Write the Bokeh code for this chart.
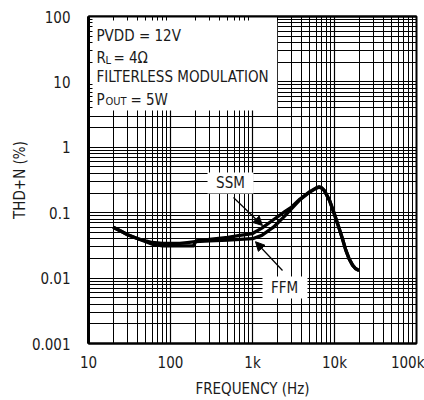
import math
from bokeh.plotting import figure
from bokeh.models import (FixedTicker, BoxAnnotation, Label, Arrow, NormalHead,
                          LogAxis)
from bokeh.embed import file_html
from bokeh.resources import INLINE

FONT = "DejaVu Sans Condensed"

# THD+N versus frequency, PVDD = 12V, RL = 4 ohm, POUT = 5W
freq_ssm = [20, 25, 30, 40, 50, 60, 80, 100, 130, 160, 190, 205, 300, 500, 700,
            1000, 1300, 1800, 2500, 3000, 3800, 5000, 6000, 6500, 7000, 7500,
            8700, 10000, 11400, 12500, 13700, 15000, 16600, 18000, 20000]
thd_ssm = [0.060, 0.052, 0.046, 0.040, 0.036, 0.033, 0.031, 0.031, 0.031, 0.031,
           0.031, 0.037, 0.039, 0.042, 0.045, 0.048, 0.058, 0.078, 0.105, 0.122,
           0.162, 0.210, 0.240, 0.248, 0.240, 0.220, 0.155, 0.095, 0.058, 0.040,
           0.027, 0.020, 0.0158, 0.014, 0.013]

freq_ffm = [20, 25, 30, 40, 50, 60, 80, 100, 130, 160, 200, 300, 500, 700,
            1000, 1300, 1800, 2500, 3000, 3800, 5000, 6000, 6500, 7000, 7500,
            8700, 10000, 11400, 12500, 13700, 15000, 16600, 18000, 20000]
thd_ffm = [0.060, 0.052, 0.046, 0.040, 0.037, 0.035, 0.034, 0.034, 0.034, 0.035,
           0.036, 0.037, 0.038, 0.039, 0.040, 0.045, 0.060, 0.090, 0.115, 0.158,
           0.207, 0.238, 0.246, 0.238, 0.218, 0.153, 0.093, 0.057, 0.040, 0.027,
           0.020, 0.0158, 0.014, 0.013]

x_major = [10, 100, 1000, 10000, 100000]
x_labels = ["10", "100", "1k", "10k", "100k"]
y_major = [0.001, 0.01, 0.1, 1, 10, 100]
y_labels = ["0.001", "0.01", "0.1", "1", "10", "100"]


def minors(majors):
    out = []
    for m in majors[:-1]:
        out += [m * k for k in range(2, 10)]
    return out


p = figure(width=424, height=400, x_axis_type="log", y_axis_type="log",
           x_range=(10, 100000), y_range=(0.001, 100),
           output_backend="svg", toolbar_location=None,
           min_border_left=88, min_border_right=8, min_border_top=16,
           min_border_bottom=57, background_fill_color="white",
           border_fill_color="white")
p.outline_line_color = "black"
p.outline_line_width = 2

p.xaxis.ticker = FixedTicker(ticks=x_major, minor_ticks=minors(x_major))
p.yaxis.ticker = FixedTicker(ticks=y_major, minor_ticks=minors(y_major))
p.xaxis.major_label_overrides = {v: s for v, s in zip(x_major, x_labels)}
p.yaxis.major_label_overrides = {v: s for v, s in zip(y_major, y_labels)}

for ax in (p.xaxis[0], p.yaxis[0]):
    ax.major_label_text_font = FONT
    ax.major_label_text_font_size = "15px"
    ax.major_label_text_color = "#1a1a1a"
    ax.axis_label_text_font = FONT
    ax.axis_label_text_font_size = "15px"
    ax.axis_label_text_font_style = "normal"
    ax.axis_label_text_color = "#1a1a1a"
    ax.axis_line_color = "black"
    ax.major_tick_out = 0
    ax.major_tick_in = 0
    ax.minor_tick_out = 0
    ax.minor_tick_in = 4
    ax.minor_tick_line_color = "black"

p.yaxis.axis_line_width = 3
p.xaxis.axis_line_width = 2
p.yaxis.major_label_standoff = 18
p.xaxis.major_label_standoff = 10
p.xaxis.axis_label = "FREQUENCY (Hz)"
p.yaxis.axis_label = "THD+N (%)"
p.xaxis.axis_label_standoff = 5
p.yaxis.axis_label_standoff = 0

# inward minor ticks along the top edge
top = LogAxis(ticker=FixedTicker(ticks=x_major, minor_ticks=minors(x_major)),
              major_label_overrides={v: "" for v in x_major},
              major_tick_out=0, major_tick_in=0,
              minor_tick_out=0, minor_tick_in=4, axis_line_width=2)
p.add_layout(top, "above")

for g in (p.xgrid[0], p.ygrid[0]):
    g.grid_line_color = "black"
    g.grid_line_width = 1.2
    g.minor_grid_line_color = "black"
    g.minor_grid_line_width = 1

# white panels behind the annotation texts
for l, r, b, t in [(10, 2000, 3.65, 100), (283, 1028, 0.197, 0.412),
                   (1324, 4687, 0.00488, 0.0106)]:
    p.add_layout(BoxAnnotation(left=l, right=r, bottom=b, top=t,
                               fill_color="white", fill_alpha=1,
                               line_color=None, level="underlay"))

p.line(freq_ffm, thd_ffm, line_color="black", line_width=3.3, line_join="round")
p.line(freq_ssm, thd_ssm, line_color="black", line_width=3.3, line_join="round")


def label(x, y, text, size="15px", xo=0, yo=0, align="left", base="alphabetic"):
    p.add_layout(Label(x=x, y=y, text=text, x_offset=xo, y_offset=yo,
                       text_font=FONT, text_font_size=size, text_color="#1a1a1a",
                       text_align=align, text_baseline=base))


label(12.5, 51.2, "PVDD = 12V")
label(12.5, 23.6, "R")
label(12.5, 23.6, "L", size="11px", xo=9, yo=-3)
label(12.5, 23.6, "= 4\u03a9", xo=17)
label(12.5, 11.7, "FILTERLESS MODULATION")
label(12.5, 5.38, "P")
label(12.5, 5.38, "OUT", size="11px", xo=9, yo=-2)
label(12.5, 5.38, "= 5W", xo=34)

label(539, 0.28, "SSM", align="center", base="middle")
label(2456, 0.00718, "FFM", align="center", base="middle")

head = dict(size=9, fill_color="black", line_color="black")
p.add_layout(Arrow(x_start=586, y_start=0.171, x_end=1324, y_end=0.0637,
                   line_width=1.2, end=NormalHead(**head)))
p.add_layout(Arrow(x_start=2323, y_start=0.01306, x_end=1088, y_end=0.036,
                   line_width=1.2, end=NormalHead(**head)))

p.add_layout(Label(x=115000, y=95, text="MAX9744 toc16", angle=math.pi / 2,
                   text_font=FONT, text_font_size="6px", text_color="#555555",
                   text_align="right", text_baseline="middle"))

open("out.html", "w").write(file_html(p, INLINE))
